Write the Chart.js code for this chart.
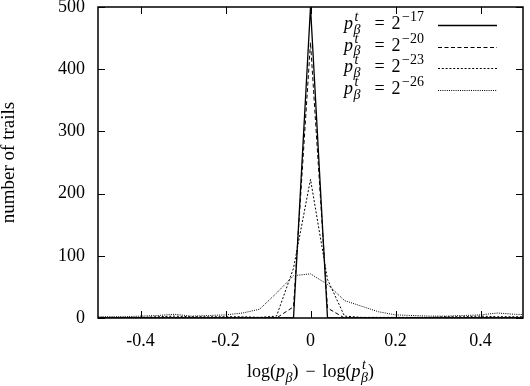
<!DOCTYPE html>
<html>
<head>
<meta charset="utf-8">
<script src="https://cdn.jsdelivr.net/npm/chart.js@4/dist/chart.umd.min.js"></script>
<style>
  html, body { margin: 0; padding: 0; background: #fff; }
  #wrap { width: 530px; height: 386px; position: relative; }
</style>
</head>
<body>
<div id="wrap"><canvas id="trails"></canvas></div>
<script>
// histogram bin centres, log(p) - log(p_t)
const binCenters = [-0.52, -0.48, -0.44, -0.40, -0.36, -0.32, -0.28, -0.24, -0.20, -0.16, -0.12, -0.08, -0.04,
                    0, 0.04, 0.08, 0.12, 0.16, 0.20, 0.24, 0.28, 0.32, 0.36, 0.40, 0.44, 0.48, 0.52];

// number of trails per bin, one array per target probability
const trails17 = [0, 0, 0, 0, 0, 0, 0, 0, 0, 0, 0, 0, 0, 500, 0, 0, 0, 0, 0, 0, 0, 0, 0, 0, 0, 0, 0];
const trails20 = [0, 0, 0, 0, 0, 0, 0, 0, 0, 0, 0, 0, 18, 443, 16, 0, 0, 0, 0, 0, 0, 0, 0, 0, 0, 0, 0];
const trails23 = [1, 1, 1, 1, 2, 3, 2, 2, 2, 2, 1, 3, 80, 223, 62, 3, 1, 1, 1, 1, 1, 2, 2, 3, 2, 2, 2];
const trails26 = [2, 2, 2, 3, 4, 6, 3, 4, 5, 8, 14, 40, 68, 71, 54, 28, 19, 10, 5, 4, 3, 3, 4, 5, 8, 6, 5];

const exponents = ['\u221217', '\u221220', '\u221223', '\u221226'];
const xTickValues = [-0.4, -0.2, 0, 0.2, 0.4];
const xTickLabels = ['-0.4', '-0.2', '0', '0.2', '0.4'];
const yTickValues = [0, 100, 200, 300, 400, 500];

const FONT = '"Liberation Serif", "Times New Roman", serif';

function toPoints(values) {
    return binCenters.map((x, i) => ({ x: x, y: values[i] }));
}

// draws text with simple super/subscripts, returns the width
function drawRich(ctx, parts, x, y, size, measureOnly) {
    let cx = x;
    const small = Math.round(size * 0.76);
    for (const p of parts) {
        cx += p.dx || 0;
        ctx.font = (p.it ? 'italic ' : '') + size + 'px ' + FONT;
        const w = ctx.measureText(p.t).width;
        if (!measureOnly) ctx.fillText(p.t, cx, y);
        cx += w;
        let extra = 0;
        if (p.sup) {
            ctx.font = (p.supIt ? 'italic ' : '') + small + 'px ' + FONT;
            const sw = ctx.measureText(p.sup).width;
            if (!measureOnly) ctx.fillText(p.sup, cx + 1.5, y - size * 0.45);
            extra = Math.max(extra, sw + 1.5);
        }
        if (p.sub) {
            ctx.font = 'italic ' + small + 'px ' + FONT;
            const bw = ctx.measureText(p.sub).width;
            if (!measureOnly) ctx.fillText(p.sub, cx + 0.5, y + size * 0.26);
            extra = Math.max(extra, bw + 0.5);
        }
        cx += extra;
    }
    return cx - x;
}

const gnuplotFrame = {
    id: 'gnuplotFrame',
    afterDraw(chart) {
        const { ctx, chartArea: a, scales: { x, y } } = chart;
        ctx.save();
        ctx.strokeStyle = '#000';
        ctx.fillStyle = '#000';
        ctx.setLineDash([]);

        // border box
        ctx.lineWidth = 1.5;
        ctx.strokeRect(a.left, a.top, a.right - a.left, a.bottom - a.top);

        // inward ticks, mirrored
        ctx.lineWidth = 1;
        ctx.beginPath();
        const tl = 7;
        x.ticks.forEach(t => {
            const px = Math.round(x.getPixelForValue(t.value)) + 0.5;
            ctx.moveTo(px, a.bottom); ctx.lineTo(px, a.bottom - tl);
            ctx.moveTo(px, a.top); ctx.lineTo(px, a.top + tl);
        });
        y.ticks.forEach(t => {
            const py = Math.round(y.getPixelForValue(t.value)) + 0.5;
            ctx.moveTo(a.left, py); ctx.lineTo(a.left + tl, py);
            ctx.moveTo(a.right, py); ctx.lineTo(a.right - tl, py);
        });
        ctx.stroke();

        // key, top right
        ctx.textBaseline = 'alphabetic';
        ctx.textAlign = 'left';
        chart.data.datasets.forEach((ds, i) => {
            const rowY = 25 + i * 21.7;
            drawRich(ctx, [
                { t: 'p', it: true, sup: 't', supIt: true, sub: '\u03b2' },
                { t: '=', dx: 14 },
                { t: '2', dx: 7, sup: exponents[i] }
            ], 344, rowY + 4, 18);
            ctx.strokeStyle = '#000';
            ctx.lineWidth = ds.borderWidth;
            ctx.setLineDash(ds.borderDash || []);
            ctx.beginPath();
            ctx.moveTo(438, Math.round(rowY) + 0.5);
            ctx.lineTo(497, Math.round(rowY) + 0.5);
            ctx.stroke();
        });
        ctx.setLineDash([]);

        // x axis title
        const title = [
            { t: 'log(' }, { t: 'p', it: true, sub: '\u03b2' }, { t: ')' },
            { t: '\u2212', dx: 7 }, { t: 'log(', dx: 7 },
            { t: 'p', it: true, sup: 't', supIt: true, sub: '\u03b2' }, { t: ')' }
        ];
        const w = drawRich(ctx, title, 0, 0, 18, true);
        drawRich(ctx, title, (a.left + a.right) / 2 - w / 2, 377, 18);
        ctx.restore();
    }
};

const lineBase = { borderColor: '#000', pointRadius: 0, tension: 0, fill: false };

new Chart(document.getElementById('trails'), {
    type: 'line',
    data: {
        datasets: [
            Object.assign({ label: '2^-17', data: toPoints(trails17), borderWidth: 1.3 }, lineBase),
            Object.assign({ label: '2^-20', data: toPoints(trails20), borderWidth: 1, borderDash: [4, 2.5] }, lineBase),
            Object.assign({ label: '2^-23', data: toPoints(trails23), borderWidth: 1, borderDash: [2, 1.8] }, lineBase),
            Object.assign({ label: '2^-26', data: toPoints(trails26), borderWidth: 1, borderDash: [1, 1.2] }, lineBase)
        ]
    },
    options: {
        responsive: true,
        maintainAspectRatio: false,
        animation: false,
        layout: { padding: { top: 7, right: 7, left: 0, bottom: 0 } },
        scales: {
            x: {
                type: 'linear',
                min: -0.5,
                max: 0.5,
                afterBuildTicks: s => { s.ticks = xTickValues.map(v => ({ value: v })); },
                afterFit: s => { s.height = 68; s.paddingLeft = 0; s.paddingRight = 0; },
                grid: { display: false, drawTicks: false },
                border: { display: false },
                ticks: {
                    padding: 12,
                    color: '#000',
                    font: { family: FONT, size: 18 },
                    maxRotation: 0,
                    callback: (v) => xTickLabels[xTickValues.indexOf(v)] ?? ''
                }
            },
            y: {
                min: 0,
                max: 500,
                afterBuildTicks: s => { s.ticks = yTickValues.map(v => ({ value: v })); },
                afterFit: s => { s.width = 98; s.paddingTop = 0; s.paddingBottom = 0; },
                grid: { display: false, drawTicks: false },
                border: { display: false },
                ticks: {
                    padding: 13,
                    color: '#000',
                    font: { family: FONT, size: 18 }
                },
                title: {
                    display: true,
                    text: 'number of trails',
                    color: '#000',
                    padding: 0,
                    font: { family: FONT, size: 19, lineHeight: 0.9 }
                }
            }
        },
        plugins: {
            legend: { display: false },
            tooltip: { enabled: false }
        }
    },
    plugins: [gnuplotFrame]
});
</script>
</body>
</html>
